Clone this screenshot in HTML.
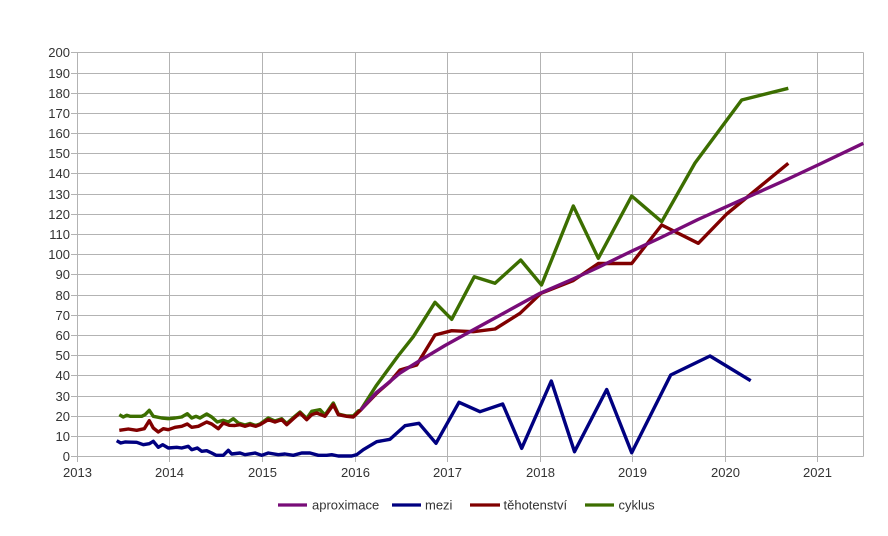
<!DOCTYPE html>
<html>
<head>
<meta charset="utf-8">
<style>
  html,body{margin:0;padding:0;background:#fff;}
  svg{display:block;}
  text{font-family:"Liberation Sans",Arial,sans-serif;font-size:13px;fill:#333;}
</style>
</head>
<body>
<svg width="888" height="536" viewBox="0 0 888 536" xmlns="http://www.w3.org/2000/svg">
  <rect x="0" y="0" width="888" height="536" fill="#fff"/>
  <g stroke="#b3b3b3" stroke-width="1" fill="none">
    <line x1="71" y1="456.5" x2="863.5" y2="456.5"/>
    <line x1="71" y1="436.5" x2="863.5" y2="436.5"/>
    <line x1="71" y1="416.5" x2="863.5" y2="416.5"/>
    <line x1="71" y1="396.5" x2="863.5" y2="396.5"/>
    <line x1="71" y1="375.5" x2="863.5" y2="375.5"/>
    <line x1="71" y1="355.5" x2="863.5" y2="355.5"/>
    <line x1="71" y1="335.5" x2="863.5" y2="335.5"/>
    <line x1="71" y1="315.5" x2="863.5" y2="315.5"/>
    <line x1="71" y1="295.5" x2="863.5" y2="295.5"/>
    <line x1="71" y1="274.5" x2="863.5" y2="274.5"/>
    <line x1="71" y1="254.5" x2="863.5" y2="254.5"/>
    <line x1="71" y1="234.5" x2="863.5" y2="234.5"/>
    <line x1="71" y1="214.5" x2="863.5" y2="214.5"/>
    <line x1="71" y1="194.5" x2="863.5" y2="194.5"/>
    <line x1="71" y1="173.5" x2="863.5" y2="173.5"/>
    <line x1="71" y1="153.5" x2="863.5" y2="153.5"/>
    <line x1="71" y1="133.5" x2="863.5" y2="133.5"/>
    <line x1="71" y1="113.5" x2="863.5" y2="113.5"/>
    <line x1="71" y1="93.5" x2="863.5" y2="93.5"/>
    <line x1="71" y1="73.5" x2="863.5" y2="73.5"/>
    <line x1="71" y1="52.5" x2="863.5" y2="52.5"/>
    <line x1="77.5" y1="52.5" x2="77.5" y2="462"/>
    <line x1="169.5" y1="52.5" x2="169.5" y2="462"/>
    <line x1="262.5" y1="52.5" x2="262.5" y2="462"/>
    <line x1="355.5" y1="52.5" x2="355.5" y2="462"/>
    <line x1="447.5" y1="52.5" x2="447.5" y2="462"/>
    <line x1="540.5" y1="52.5" x2="540.5" y2="462"/>
    <line x1="632.5" y1="52.5" x2="632.5" y2="462"/>
    <line x1="725.5" y1="52.5" x2="725.5" y2="462"/>
    <line x1="817.5" y1="52.5" x2="817.5" y2="462"/>
    <line x1="863.5" y1="52.5" x2="863.5" y2="456.5"/>
  </g>
  <g text-anchor="end">
    <text x="70" y="461">0</text>
    <text x="70" y="441">10</text>
    <text x="70" y="421">20</text>
    <text x="70" y="401">30</text>
    <text x="70" y="380">40</text>
    <text x="70" y="360">50</text>
    <text x="70" y="340">60</text>
    <text x="70" y="320">70</text>
    <text x="70" y="300">80</text>
    <text x="70" y="279">90</text>
    <text x="70" y="259">100</text>
    <text x="70" y="239">110</text>
    <text x="70" y="219">120</text>
    <text x="70" y="199">130</text>
    <text x="70" y="178">140</text>
    <text x="70" y="158">150</text>
    <text x="70" y="138">160</text>
    <text x="70" y="118">170</text>
    <text x="70" y="98">180</text>
    <text x="70" y="78">190</text>
    <text x="70" y="57">200</text>
  </g>
  <g text-anchor="middle">
    <text x="77.5" y="477">2013</text>
    <text x="169.5" y="477">2014</text>
    <text x="262.5" y="477">2015</text>
    <text x="355.5" y="477">2016</text>
    <text x="447.5" y="477">2017</text>
    <text x="540.5" y="477">2018</text>
    <text x="632.5" y="477">2019</text>
    <text x="725.5" y="477">2020</text>
    <text x="817.5" y="477">2021</text>
  </g>
  <g fill="none" stroke-width="3.4" stroke-linejoin="round" stroke-linecap="butt">
    <polyline stroke="#000080" points="116.7,440.7 120.7,443 125,442 136.7,442.3 143.3,444.7 149.3,443.7 153.3,441.3 158.3,447.3 162.7,444.7 168.3,448 176.7,447.3 181.7,448 188.3,446.3 191.7,449.7 197.3,448 201.7,451.3 206.7,450.7 211.7,453 216,455.3 223.3,455.3 228.3,450.3 231.7,454 240,453 245,454.7 255,453 261.7,455.3 268.3,453 278.3,454.7 285,454 293.3,455.3 301.7,453 310,453 318.3,455.3 326.7,455.3 331.7,454.7 338.3,456 351.7,456 356.7,454.7 363.3,449.7 376.7,441.7 390,439.3 405,425.7 419,423.3 436,443.3 459,402.3 480,411.7 502.7,404 521.7,448.3 551.3,381 574.5,451.7 606.7,389.5 631.7,452.7 670.7,375 710,356 750.7,380.7"/>
    <polyline stroke="#3c6e00" points="119.3,414.7 123.3,417 126.7,415.3 130,416.3 141.7,416.3 145,414.7 149.3,410.3 153.3,416.3 161.7,418 168.3,418.7 175,418 181.7,417 187.3,413.7 191.7,418 196,416.3 200,418 206.7,414 211.7,417 217.3,422 223.3,420.3 228.3,422 233.3,418.7 238.3,423 245,425 250,423.5 255.7,425.5 260,424 268.3,418 275,421 281.7,418.7 286.7,423.5 293.3,417.7 300,412 306.7,418.5 311.7,411.3 320,409.7 325,415 333.3,403 338.3,414 346.7,416 353.3,416 358.3,411 360.7,410 376,386 398,356 413.3,336.7 435,302.3 451.7,319.3 474.3,276.7 495,283.3 520.7,260 541.5,285 573.3,206 598.3,258.3 631.7,196 661.7,221.7 695,163 741.7,100 788.3,88.3"/>
    <polyline stroke="#800000" points="119.3,430.3 128.3,429 136.7,430.3 144.3,428.7 149.3,420.7 153.3,428 158.3,432 163.3,428.7 168.3,429.7 175,427.3 181.7,426.3 187.3,424 191.7,427.3 198.3,426.3 206.7,422 211.7,424 218.3,428.7 223.3,423 229.3,425.3 235,425.5 240,424.7 245,426.3 250,424.7 255.7,426.3 260,424.7 268.3,419.7 275,422 281.7,419.7 286.7,424.7 293.3,418.7 300,413 306.7,419.7 311.7,414.7 316.7,413 325,416.3 333.3,404.7 338.3,414.7 346.7,416.3 353.3,417 360.7,410 376.7,393.3 390,381.7 400,370 416.7,365 435,335 451.7,330.7 473.3,331.7 495,329 520,313.3 541,293.3 573.3,280.5 598.3,263.5 631.7,263.5 661.7,225 698.3,243.3 726.7,214 788.3,163.3"/>
    <polyline stroke="#780c78" points="360.7,410 376,393 390,381.5 400,373 418,361.7 445,345.5 473,330 505,312.5 540,293.3 573,279 598,267.5 632,251 661,237.5 698,219.5 745,198.3 788,179 820,164 863.3,143.3"/>
  </g>
  <g stroke-width="3.2">
    <line x1="278" y1="505" x2="307" y2="505" stroke="#780c78"/>
    <line x1="392" y1="505" x2="421" y2="505" stroke="#000080"/>
    <line x1="470" y1="505" x2="500" y2="505" stroke="#800000"/>
    <line x1="585" y1="505" x2="614" y2="505" stroke="#3c6e00"/>
  </g>
  <text x="312" y="509.5">aproximace</text>
  <text x="425" y="509.5">mezi</text>
  <text x="503.5" y="509.5">těhotenství</text>
  <text x="618.5" y="509.5">cyklus</text>
</svg>
</body>
</html>
